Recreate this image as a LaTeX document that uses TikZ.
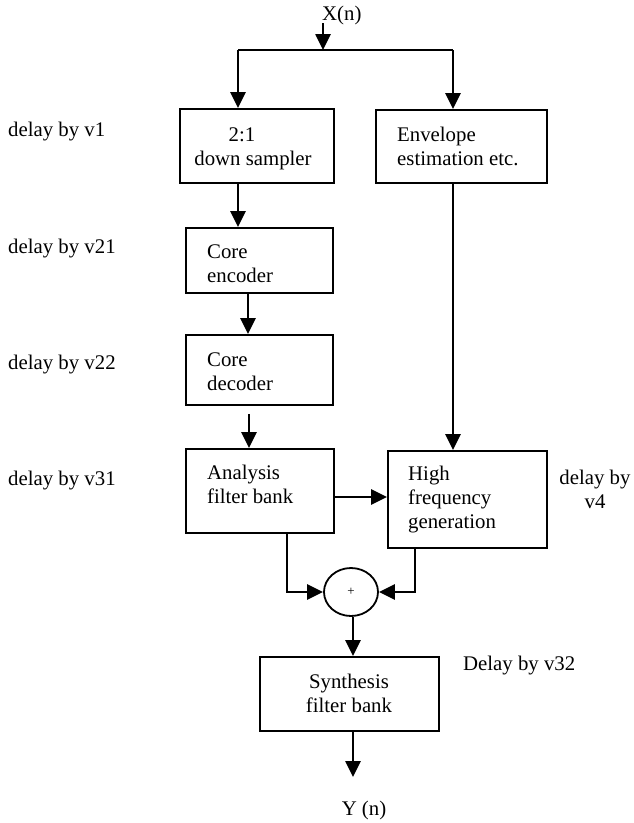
\documentclass[tikz,border=0pt]{standalone}
\usepackage{fontspec}
\setmainfont{Liberation Serif}
\usetikzlibrary{arrows.meta,shapes.geometric}
\begin{document}
\begin{tikzpicture}[x=1pt,y=-1pt,
  box/.style={draw,line width=1.8pt,inner sep=0pt},
  txt/.style={inner sep=0pt,font=\fontsize{20.8}{24}\selectfont},
  arr/.style={line width=2.6pt,line join=miter,-{Triangle[length=16pt,width=15pt]}},
  plain/.style={line width=2.6pt,line join=miter}]
\useasboundingbox (0,0) rectangle (633,823);
% boxes
\node[box,minimum width=154pt,minimum height=74pt] (ds) at (257,146) {};
\node[box,minimum width=171pt,minimum height=73pt] (env) at (461.5,146.5) {};
\node[box,minimum width=147pt,minimum height=65pt] (enc) at (259.5,260.5) {};
\node[box,minimum width=147pt,minimum height=70pt] (dec) at (259.5,370) {};
\node[box,minimum width=148pt,minimum height=84pt] (ana) at (260,491) {};
\node[box,minimum width=159pt,minimum height=97pt] (hfg) at (467.5,499.5) {};
\node[box,ellipse,minimum width=54pt,minimum height=48pt] (sum) at (351,592) {};
\node[box,minimum width=179pt,minimum height=74pt] (syn) at (349.5,694) {};
% texts in boxes (base anchor = baseline of the last line)
\node[txt,anchor=base,align=center] (dsT) at (253,165) {2:1\hspace*{22pt}\\down sampler};
\node[txt,anchor=base west,align=left] (envT) at (397,165) {Envelope\\estimation etc.};
\node[txt,anchor=base west,align=left] (encT) at (207,282) {Core\\encoder};
\node[txt,anchor=base west,align=left] (decT) at (207,390) {Core\\decoder};
\node[txt,anchor=base west,align=left] (anaT) at (207,503) {Analysis\\filter bank};
\node[txt,anchor=base west,align=left] (hfgT) at (408,528) {High\\frequency\\generation};
\node[txt,anchor=base,align=center] (synT) at (349,712) {Synthesis\\filter bank};
\node[inner sep=0pt,font=\fontsize{13}{15}\selectfont] (plus) at (sum.center) {+};
% input / output labels
\node[txt,anchor=base west] (xn) at (322,20) {X(n)};
\node[txt,anchor=base] (yn) at (364,815) {Y (n)};
% delay labels
\node[txt,anchor=base west] (d1) at (8,136) {delay by v1};
\node[txt,anchor=base west] (d21) at (8,253) {delay by v21};
\node[txt,anchor=base west] (d22) at (8,369) {delay by v22};
\node[txt,anchor=base west] (d31) at (8,485) {delay by v31};
\node[txt,anchor=base,align=center] (d4) at (595,508) {delay by\\v4};
\node[txt,anchor=base west] (d32) at (463,670) {Delay by v32};
% coordinates
\coordinate (xin) at (323,23);
\coordinate (pM) at (323,50);
\coordinate (pL) at (238,50);
\coordinate (pR) at (453,50);
\coordinate (cEnc) at (248,0);
\coordinate (cDec) at (249,0);
\coordinate (cAH) at (0,497);
\coordinate (cAS) at (287,0);
\coordinate (cHS) at (415,0);
\coordinate (cOut) at (353,777);
% connectors
\draw[arr] (xin) -- (pM);
\draw[plain] (pL) -- (pR);
\draw[arr] (pL) -- (pL |- ds.north);
\draw[arr] (pR) -- (pR |- env.north);
\draw[arr] (pL |- ds.south) -- (pL |- enc.north);
\draw[arr] (cEnc |- enc.south) -- (cEnc |- dec.north);
\draw[arr,shorten <=8pt] (cDec |- dec.south) -- (cDec |- ana.north);
\draw[arr] (ana.east |- cAH) -- (hfg.west |- cAH);
\draw[arr] (pR |- env.south) -- (pR |- hfg.north);
\draw[arr] (cAS |- ana.south) |- (sum.west);
\draw[arr] (cHS |- hfg.south) |- (sum.east);
\draw[arr] (cOut |- sum.south) -- (cOut |- syn.north);
\draw[arr] (cOut |- syn.south) -- (cOut);
\end{tikzpicture}
\end{document}
